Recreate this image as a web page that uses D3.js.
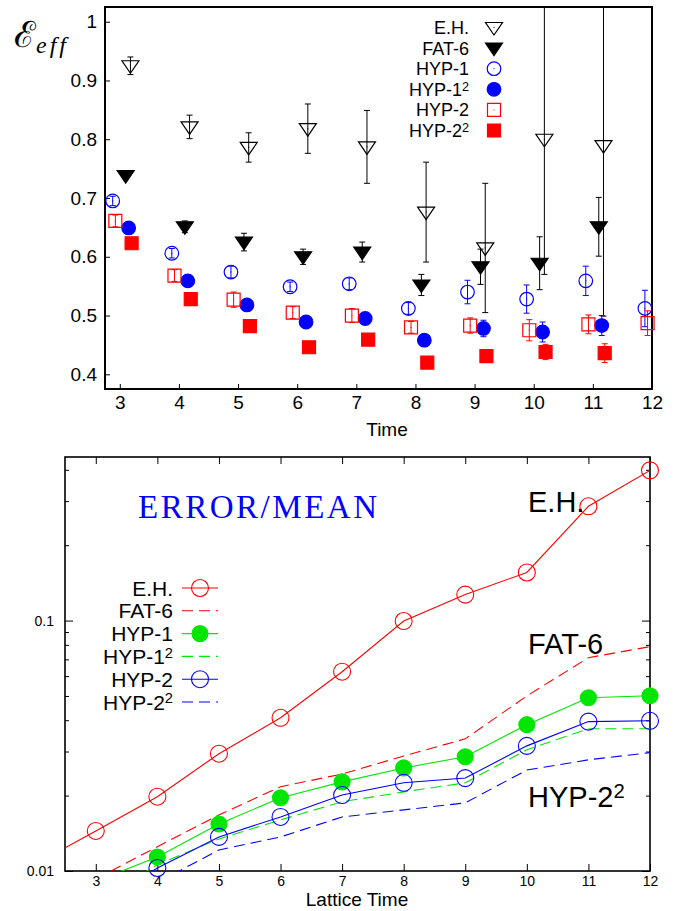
<!DOCTYPE html>
<html>
<head>
<meta charset="utf-8">
<script src="https://cdn.jsdelivr.net/npm/d3@7"></script>
<style>
body { margin: 0; background: #fff; }
</style>
</head>
<body>
<div id="chart"></div>
<script>
// ---- top panel: effective value vs time (with error bars)
const topTimes = [3, 4, 5, 6, 7, 8, 9, 10, 11, 12];
const ehVal     = [0.925, 0.821, 0.786, 0.818, 0.787, 0.676, 0.615, 0.800, 0.789, null];
const ehErr     = [0.015, 0.020, 0.025, 0.042, 0.062, 0.085, 0.110, 0.230, 0.290, null];
const fat6Val   = [0.738, 0.651, 0.625, 0.600, 0.608, 0.552, 0.583, 0.589, 0.651, null];
const fat6Err   = [0.005, 0.010, 0.015, 0.013, 0.017, 0.018, 0.030, 0.045, 0.050, null];
const hyp1Val   = [0.695, 0.606, 0.574, 0.549, 0.554, 0.512, 0.540, 0.528, 0.559, 0.512];
const hyp1Err   = [0.008, 0.008, 0.010, 0.008, 0.010, 0.010, 0.020, 0.024, 0.025, 0.031];
const hyp1sqVal = [0.649, 0.559, 0.518, 0.489, 0.495, 0.458, 0.478, 0.472, 0.483, null];
const hyp1sqErr = [0.004, 0.005, 0.005, 0.005, 0.006, 0.006, 0.014, 0.017, 0.017, null];
const hyp2Val   = [0.661, 0.568, 0.527, 0.505, 0.500, 0.480, 0.483, 0.475, 0.485, 0.487];
const hyp2Err   = [0.010, 0.010, 0.013, 0.010, 0.012, 0.010, 0.013, 0.018, 0.016, 0.021];
const hyp2sqVal = [0.623, 0.528, 0.482, 0.446, 0.459, 0.420, 0.431, 0.438, 0.436, null];
const hyp2sqErr = [0.004, 0.005, 0.005, 0.005, 0.006, 0.006, 0.008, 0.013, 0.016, null];
const topYTicks = [0.4, 0.5, 0.6, 0.7, 0.8, 0.9, 1];

// ---- bottom panel: error / mean vs lattice time (log scale)
const latTimes  = [2, 3, 4, 5, 6, 7, 8, 9, 10, 11, 12];
const ehRel     = [0.0106, 0.01445, 0.0198, 0.0294, 0.0409, 0.0625, 0.0996, 0.127, 0.1556, 0.286, 0.398];
const fat6Rel   = [null, 0.0093, 0.0125, 0.01675, 0.0217, 0.0244, 0.0288, 0.0337, 0.050, 0.0711, 0.0787];
const hyp1Rel   = [null, 0.0091, 0.01138, 0.0154, 0.0196, 0.0227, 0.0258, 0.0286, 0.0384, 0.0492, 0.0501];
const hyp1sqRel = [null, 0.0075, 0.0106, 0.01343, 0.0160, 0.0189, 0.0207, 0.0225, 0.0305, 0.0370, 0.0370];
const hyp2Rel   = [null, 0.0072, 0.01028, 0.01368, 0.01644, 0.0201, 0.0225, 0.0235, 0.0316, 0.0395, 0.0398];
const hyp2sqRel = [null, null, 0.0090, 0.01213, 0.01368, 0.01644, 0.01754, 0.01871, 0.0253, 0.0278, 0.0297];
const latXTicks = [3, 4, 5, 6, 7, 8, 9, 10, 11, 12];
const logMajor  = [0.01, 0.1];
const logMinor  = [0.02, 0.03, 0.04, 0.05, 0.06, 0.07, 0.08, 0.09, 0.2, 0.3, 0.4];

const RED = "#ff0000", BLUE = "#0000ff", GREEN = "#00e600";
const SANS = "Liberation Sans, Arial, sans-serif";

const svg = d3.select("#chart").append("svg")
    .attr("width", 681)
    .attr("height", 911)
    .attr("font-family", SANS);

function markerPath(shape, cx, cy) {
    if (shape === "tri") {
        return `M${cx - 8.5},${cy - 5}L${cx + 8.5},${cy - 5}L${cx},${cy + 7.5}Z`;
    }
    return `M${cx - 6.5},${cy - 6.5}h13v13h-13Z`;
}

function drawMarker(g, shape, filled, color, cx, cy) {
    if (shape === "circ") {
        g.append("circle")
            .attr("cx", cx).attr("cy", cy).attr("r", 6.8)
            .attr("fill", filled ? color : "none")
            .attr("stroke", color).attr("stroke-width", 1.2);
    } else {
        g.append("path")
            .attr("d", markerPath(shape, cx, cy))
            .attr("fill", filled ? color : "none")
            .attr("stroke", color).attr("stroke-width", 1.2);
    }
    if (!filled) {
        g.append("rect").attr("x", cx - 0.5).attr("y", cy - 0.5)
            .attr("width", 1).attr("height", 1).attr("fill", color);
    }
}

function addLabel(sel, name, sup) {
    sel.text(name);
    if (sup) {
        sel.append("tspan").attr("dy", "-0.42em").attr("font-size", "0.7em").text(sup);
    }
}

class EffVis {
    constructor() {
        this.series = [
            {name: "E.H.",  sup: null, vals: ehVal,     errs: ehErr,     shift: 0.18,  shape: "tri",  filled: false, color: "#000"},
            {name: "FAT-6", sup: null, vals: fat6Val,   errs: fat6Err,   shift: 0.1,   shape: "tri",  filled: true,  color: "#000"},
            {name: "HYP-1", sup: null, vals: hyp1Val,   errs: hyp1Err,   shift: -0.12, shape: "circ", filled: false, color: BLUE},
            {name: "HYP-1", sup: "2",  vals: hyp1sqVal, errs: hyp1sqErr, shift: 0.15,  shape: "circ", filled: true,  color: BLUE},
            {name: "HYP-2", sup: null, vals: hyp2Val,   errs: hyp2Err,   shift: -0.075,shape: "sq",   filled: false, color: RED},
            {name: "HYP-2", sup: "2",  vals: hyp2sqVal, errs: hyp2sqErr, shift: 0.2,   shape: "sq",   filled: true,  color: RED}
        ];
        this.initVis();
    }

    initVis() {
        let vis = this;
        vis.left = 105; vis.right = 652; vis.top = 7; vis.bottom = 389;

        vis.x = d3.scaleLinear().domain([2.75, 12]).range([vis.left, vis.right]);
        vis.y = d3.scaleLinear().domain([0.375, 1.025]).range([vis.bottom, vis.top]);

        vis.g = svg.append("g");

        vis.g.append("clipPath").attr("id", "clipTop")
            .append("rect")
            .attr("x", vis.left).attr("y", vis.top)
            .attr("width", vis.right - vis.left).attr("height", vis.bottom - vis.top);

        vis.g.append("g")
            .attr("transform", `translate(0,${vis.bottom})`)
            .call(d3.axisBottom(vis.x).tickValues(topTimes).tickSize(-5).tickSizeOuter(0).tickPadding(7))
            .call(g => g.select(".domain").remove())
            .call(g => g.selectAll("text").attr("font-size", 19).attr("font-family", SANS));

        vis.g.append("g")
            .attr("transform", `translate(${vis.left},0)`)
            .call(d3.axisLeft(vis.y).tickValues(topYTicks).tickFormat(d3.format("~g")).tickSize(-5).tickSizeOuter(0).tickPadding(8))
            .call(g => g.select(".domain").remove())
            .call(g => g.selectAll("text").attr("font-size", 19).attr("font-family", SANS));

        vis.g.append("rect")
            .attr("x", vis.left).attr("y", vis.top)
            .attr("width", vis.right - vis.left).attr("height", vis.bottom - vis.top)
            .attr("fill", "none").attr("stroke", "#000").attr("stroke-width", 2);

        // error bars
        let bars = vis.g.append("g").attr("clip-path", "url(#clipTop)");
        vis.series.forEach(s => {
            s.vals.forEach((v, i) => {
                if (v == null) return;
                let cx = vis.x(topTimes[i] + s.shift);
                let y0 = vis.y(v - s.errs[i]), y1 = vis.y(v + s.errs[i]);
                let cw = 3;
                bars.append("path")
                    .attr("d", `M${cx},${y0}V${y1}M${cx - cw},${y0}h${2 * cw}M${cx - cw},${y1}h${2 * cw}`)
                    .attr("stroke", s.color).attr("stroke-width", 1).attr("fill", "none");
            });
        });

        // markers
        let marks = vis.g.append("g");
        vis.series.forEach(s => {
            s.vals.forEach((v, i) => {
                if (v == null) return;
                drawMarker(marks, s.shape, s.filled, s.color, vis.x(topTimes[i] + s.shift), vis.y(v));
            });
        });

        // legend
        let leg = vis.g.append("g");
        vis.series.forEach((s, i) => {
            let cy = 27.5 + i * 20.6;
            leg.append("text")
                .attr("x", 469).attr("y", cy + 6.5)
                .attr("text-anchor", "end").attr("font-size", 18)
                .call(t => addLabel(t, s.name, s.sup));
            drawMarker(leg, s.shape, s.filled, s.color, 494, cy);
        });

        vis.g.append("text")
            .attr("x", 387).attr("y", 436)
            .attr("text-anchor", "middle").attr("font-size", 19)
            .text("Time");

        let yl = vis.g.append("text").attr("x", 14).attr("y", 47);
        yl.append("tspan").attr("font-family", "DejaVu Serif").attr("font-size", 36).text("ℰ");
        yl.append("tspan").attr("font-family", "Liberation Serif").attr("font-style", "italic").attr("font-size", 24)
            .attr("dy", 6).attr("letter-spacing", 3).text("eff");
    }
}

class RelErrVis {
    constructor() {
        this.series = [
            {name: "E.H.",  sup: null, vals: ehRel,     color: RED,   dash: null,  marker: "open"},
            {name: "FAT-6", sup: null, vals: fat6Rel,   color: RED,   dash: "11,6", marker: null},
            {name: "HYP-1", sup: null, vals: hyp1Rel,   color: GREEN, dash: null,  marker: "fill"},
            {name: "HYP-1", sup: "2",  vals: hyp1sqRel, color: GREEN, dash: "11,6", marker: null},
            {name: "HYP-2", sup: null, vals: hyp2Rel,   color: BLUE,  dash: null,  marker: "open"},
            {name: "HYP-2", sup: "2",  vals: hyp2sqRel, color: BLUE,  dash: "11,6", marker: null}
        ];
        this.initVis();
    }

    initVis() {
        let vis = this;
        vis.left = 65; vis.right = 650; vis.top = 457; vis.bottom = 871;

        vis.x = d3.scaleLinear().domain([2.5, 12]).range([vis.left, vis.right]);
        vis.y = d3.scaleLog().domain([0.01, 0.45]).range([vis.bottom, vis.top]);

        vis.g = svg.append("g");

        vis.g.append("clipPath").attr("id", "clipBot")
            .append("rect")
            .attr("x", vis.left).attr("y", vis.top)
            .attr("width", vis.right - vis.left).attr("height", vis.bottom - vis.top);

        let fontTicks = g => g.selectAll("text").attr("font-size", 14).attr("font-family", SANS);

        vis.g.append("g")
            .attr("transform", `translate(0,${vis.bottom})`)
            .call(d3.axisBottom(vis.x).tickValues(latXTicks).tickSize(-7).tickSizeOuter(0).tickPadding(5))
            .call(g => g.select(".domain").remove())
            .call(fontTicks);
        vis.g.append("g")
            .attr("transform", `translate(0,${vis.top})`)
            .call(d3.axisTop(vis.x).tickValues(latXTicks).tickSize(-7).tickSizeOuter(0).tickFormat(""))
            .call(g => g.select(".domain").remove());

        let allY = logMajor.concat(logMinor);
        let fmt = d => logMajor.includes(d) ? String(d) : "";
        vis.g.append("g")
            .attr("transform", `translate(${vis.left},0)`)
            .call(d3.axisLeft(vis.y).tickValues(allY).tickFormat(fmt).tickSize(-4).tickSizeOuter(0).tickPadding(11))
            .call(g => g.select(".domain").remove())
            .call(g => g.selectAll(".tick").filter(d => logMajor.includes(d)).select("line").attr("x2", 8))
            .call(fontTicks);
        vis.g.append("g")
            .attr("transform", `translate(${vis.right},0)`)
            .call(d3.axisRight(vis.y).tickValues(allY).tickFormat("").tickSize(-4).tickSizeOuter(0))
            .call(g => g.select(".domain").remove())
            .call(g => g.selectAll(".tick").filter(d => logMajor.includes(d)).select("line").attr("x2", -8));

        vis.g.append("rect")
            .attr("x", vis.left).attr("y", vis.top)
            .attr("width", vis.right - vis.left).attr("height", vis.bottom - vis.top)
            .attr("fill", "none").attr("stroke", "#000").attr("stroke-width", 1.6);

        let line = d3.line()
            .defined(d => d.v != null)
            .x(d => vis.x(d.t))
            .y(d => vis.y(d.v));

        let lines = vis.g.append("g").attr("clip-path", "url(#clipBot)");
        let marks = vis.g.append("g");
        let [xmin, xmax] = vis.x.domain(), [ymin, ymax] = vis.y.domain();

        vis.series.forEach(s => {
            let pts = latTimes.map((t, i) => ({t: t, v: s.vals[i]}));
            lines.append("path")
                .datum(pts)
                .attr("d", line)
                .attr("fill", "none")
                .attr("stroke", s.color).attr("stroke-width", 1.1)
                .attr("stroke-dasharray", s.dash);
            if (s.marker) {
                pts.filter(d => d.v != null && d.t >= xmin && d.t <= xmax && d.v >= ymin && d.v <= ymax)
                    .forEach(d => {
                        marks.append("circle")
                            .attr("cx", vis.x(d.t)).attr("cy", vis.y(d.v))
                            .attr("r", s.marker === "fill" ? 8 : 8.5)
                            .attr("fill", s.marker === "fill" ? s.color : "none")
                            .attr("stroke", s.color).attr("stroke-width", 1.1);
                    });
            }
        });

        // legend
        let leg = vis.g.append("g");
        vis.series.forEach((s, i) => {
            let cy = 588 + i * 22.8;
            leg.append("text")
                .attr("x", 173).attr("y", cy + 7.5)
                .attr("text-anchor", "end").attr("font-size", 21)
                .call(t => addLabel(t, s.name, s.sup));
            leg.append("line")
                .attr("x1", 182).attr("x2", 218).attr("y1", cy).attr("y2", cy)
                .attr("stroke", s.color).attr("stroke-width", 1.1)
                .attr("stroke-dasharray", s.dash);
            if (s.marker) {
                leg.append("circle")
                    .attr("cx", 200).attr("cy", cy)
                    .attr("r", s.marker === "fill" ? 8 : 8.5)
                    .attr("fill", s.marker === "fill" ? s.color : "none")
                    .attr("stroke", s.color).attr("stroke-width", 1.1);
            }
        });

        vis.g.append("text")
            .attr("x", 138).attr("y", 518)
            .attr("font-family", "Liberation Serif").attr("font-size", 33)
            .attr("fill", BLUE)
            .attr("textLength", 239).attr("lengthAdjust", "spacing")
            .text("ERROR/MEAN");

        vis.g.append("text").attr("x", 528).attr("y", 512).attr("font-size", 29).text("E.H.");
        vis.g.append("text").attr("x", 528).attr("y", 654).attr("font-size", 29).text("FAT-6");
        vis.g.append("text").attr("x", 528).attr("y", 807).attr("font-size", 29)
            .call(t => addLabel(t, "HYP-2", "2"));

        vis.g.append("text")
            .attr("x", 357).attr("y", 906)
            .attr("text-anchor", "middle").attr("font-size", 19)
            .text("Lattice Time");
    }
}

new EffVis();
new RelErrVis();
</script>
</body>
</html>
